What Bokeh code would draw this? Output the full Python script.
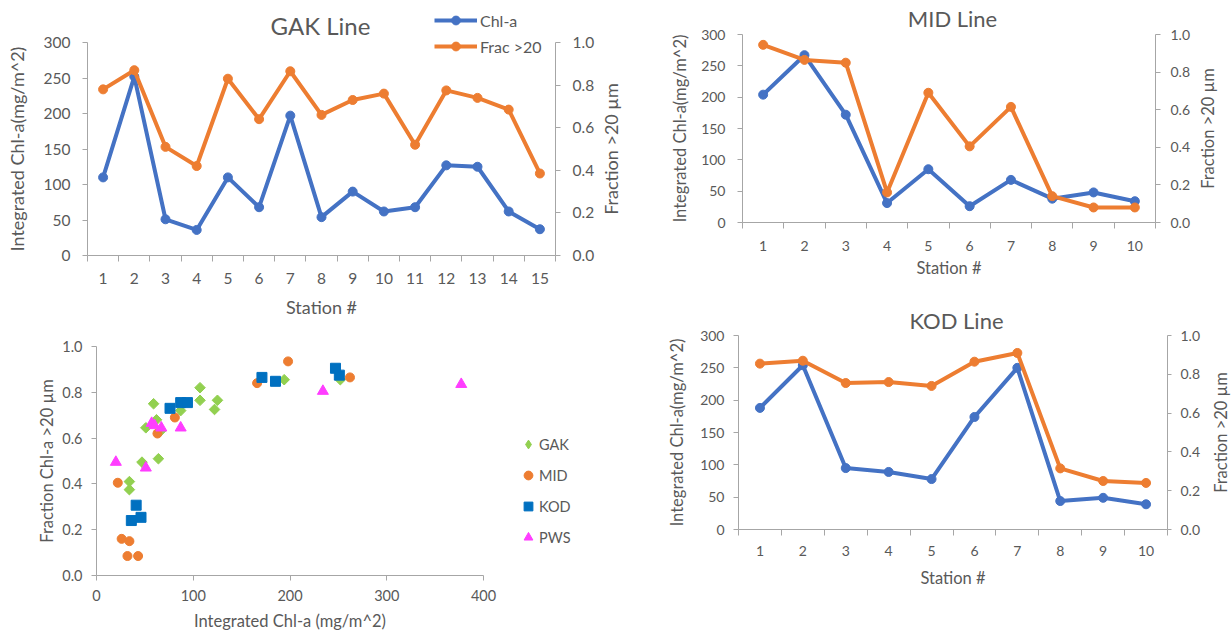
import numpy as np
from bokeh.plotting import figure
from bokeh.models import (Range1d, LinearAxis, FixedTicker, NumeralTickFormatter,
                          Label, Legend, LegendItem)
from bokeh.embed import file_html
from bokeh.resources import INLINE

FONT = "Lato"
TXT = "#595959"
AXIS_C = "#a6a6a6"
BLUE = "#4472C4"
ORANGE = "#ED7D31"
GREEN = "#92D050"
KBLUE = "#0070C0"
MAGENTA = "#FF3DFF"
PAGE_W, PAGE_H = 1231, 634

# ---------------- data ----------------
gak_stations = list(range(1, 16))
gak_chl = [110, 252, 51, 36, 110, 68, 197, 54, 90, 62, 68, 127, 125, 62, 37]
gak_frac = [0.78, 0.87, 0.51, 0.42, 0.83, 0.64, 0.865, 0.66, 0.73, 0.76, 0.52, 0.775, 0.74, 0.685, 0.385]

mid_stations = list(range(1, 11))
mid_chl = [204, 267, 172, 31, 85, 26, 68, 38, 48, 34]
mid_frac = [0.945, 0.865, 0.85, 0.16, 0.69, 0.405, 0.615, 0.14, 0.08, 0.08]

kod_stations = list(range(1, 11))
kod_chl = [188, 254, 95, 89, 78, 174, 250, 44, 49, 39]
kod_frac = [0.855, 0.87, 0.755, 0.76, 0.74, 0.865, 0.91, 0.315, 0.25, 0.24]

sc_gak_chl = [107, 107, 125, 122, 87, 59, 62, 64, 47, 34, 34, 194, 252, 51, 66]
sc_gak_frac = [0.82, 0.765, 0.765, 0.725, 0.72, 0.75, 0.68, 0.51, 0.495, 0.41, 0.375, 0.855, 0.855, 0.645, 0.63]
sc_mid_chl = [198, 166, 262, 81, 63, 22, 26, 34, 32, 43]
sc_mid_frac = [0.935, 0.84, 0.865, 0.69, 0.62, 0.405, 0.16, 0.15, 0.085, 0.085]
sc_kod_chl = [171, 185, 247, 251, 76, 87, 94, 41, 36, 46]
sc_kod_frac = [0.865, 0.848, 0.905, 0.875, 0.73, 0.755, 0.755, 0.307, 0.24, 0.254]
sc_pws_chl = [20, 51, 57, 60, 67, 87, 234, 377]
sc_pws_frac = [0.495, 0.47, 0.665, 0.655, 0.645, 0.645, 0.805, 0.835]

CHL_TICKS = [0, 50, 100, 150, 200, 250, 300]
FRAC_TICKS = [0.0, 0.2, 0.4, 0.6, 0.8, 1.0]
SC_X_TICKS = [0, 100, 200, 300, 400]

Y_TITLE = "Integrated Chl-a(mg/m^2)"
R_TITLE = "Fraction >20 \u00b5m"
SERIES_LABELS = ["Chl-a", "Frac >20"]
SC_LABELS = ["GAK", "MID", "KOD", "PWS"]


def place(p, x, y, z=1):
    p.styles = {"position": "absolute", "left": f"{x}px", "top": f"{y}px", "z-index": str(z)}


def base(p):
    p.outline_line_color = None
    p.background_fill_color = "white"
    p.border_fill_color = "white"
    p.xgrid.visible = False
    p.ygrid.visible = False


def style_axis(ax, tick_fs, title_fs):
    ax.axis_line_color = AXIS_C
    ax.axis_line_width = 1
    ax.major_tick_line_color = AXIS_C
    ax.minor_tick_line_color = AXIS_C
    ax.major_label_text_font = FONT
    ax.major_label_text_font_size = tick_fs
    ax.major_label_text_color = TXT
    ax.axis_label_text_font = FONT
    ax.axis_label_text_font_size = title_fs
    ax.axis_label_text_color = TXT
    ax.axis_label_text_font_style = "normal"
    ax.major_tick_in = 0
    ax.minor_tick_in = 0


def line_chart(stations, chl, frac, origin, size, frame, cfg):
    ox, oy = origin
    W, H = size
    L, R, T, B = frame[0] - ox, frame[1] - ox, frame[2] - oy, frame[3] - oy
    n = len(stations)
    p = figure(width=W, height=H, x_range=Range1d(0.5, n + 0.5), y_range=Range1d(0, 300),
               min_border_left=L, min_border_right=W - R, min_border_top=T,
               min_border_bottom=H - B, output_backend="svg", toolbar_location=None)
    p.extra_y_ranges = {"frac": Range1d(0, 1)}
    base(p)
    place(p, ox, oy)

    xa = p.xaxis[0]
    xa.ticker = FixedTicker(ticks=stations,
                            minor_ticks=[s - 0.5 for s in stations] + [stations[-1] + 0.5])
    style_axis(xa, cfg["tick_fs"], cfg["axis_fs"])
    xa.major_tick_out = 0
    xa.minor_tick_out = 6
    xa.major_label_standoff = cfg["x_std"]
    xa.axis_label = "Station #"
    xa.axis_label_standoff = cfg["x_title_std"]

    ya = p.yaxis[0]
    ya.ticker = FixedTicker(ticks=CHL_TICKS)
    style_axis(ya, cfg["tick_fs"], cfg["axis_fs"])
    ya.major_tick_out = 5
    ya.minor_tick_out = 0
    ya.major_label_standoff = cfg["y_std"]
    ya.axis_label = Y_TITLE
    ya.axis_label_standoff = cfg["y_title_std"]

    ra = LinearAxis(y_range_name="frac", ticker=FixedTicker(ticks=FRAC_TICKS),
                    formatter=NumeralTickFormatter(format="0.0"))
    style_axis(ra, cfg["tick_fs"], cfg["axis_fs"])
    ra.major_tick_out = cfg["r_tick"]
    ra.minor_tick_out = 0
    ra.major_label_standoff = cfg["r_std"]
    p.add_layout(ra, "right")

    p.line(stations, chl, line_color=BLUE, line_width=4, line_join="round")
    p.scatter(stations, chl, marker="circle", size=9, fill_color=BLUE, line_color=BLUE)
    p.line(stations, frac, y_range_name="frac", line_color=ORANGE, line_width=4,
           line_join="round")
    p.scatter(stations, frac, y_range_name="frac", marker="circle", size=9,
              fill_color=ORANGE, line_color=ORANGE)
    return p


gak = line_chart(gak_stations, gak_chl, gak_frac, (0, 0), (625, 320), (87, 555, 42, 255),
                 dict(tick_fs="15.5px", axis_fs="18px", x_std=11, x_title_std=9,
                      y_std=12, y_title_std=13, r_tick=5, r_std=12))
mid = line_chart(mid_stations, mid_chl, mid_frac, (625, 0), (606, 300), (742, 1155, 34, 222),
                 dict(tick_fs="14px", axis_fs="16.5px", x_std=12, x_title_std=4,
                      y_std=12, y_title_std=8, r_tick=5, r_std=10))
kod = line_chart(kod_stations, kod_chl, kod_frac, (625, 300), (606, 334), (738, 1167, 335, 529),
                 dict(tick_fs="14px", axis_fs="16.5px", x_std=10, x_title_std=9,
                      y_std=9, y_title_std=10, r_tick=4, r_std=9))

# ---------------- scatter ----------------
ox, oy = 0, 320
W, H = 625, 314
fL, fR, fT, fB = 96, 483, 346, 575
sc = figure(width=W, height=H, x_range=Range1d(0, 400), y_range=Range1d(0, 1),
            min_border_left=fL - ox, min_border_right=W - (fR - ox), min_border_top=fT - oy,
            min_border_bottom=H - (fB - oy), output_backend="svg", toolbar_location=None)
base(sc)
place(sc, ox, oy)
sxa = sc.xaxis[0]
sxa.ticker = FixedTicker(ticks=SC_X_TICKS)
style_axis(sxa, "14.5px", "16.5px")
sxa.major_tick_out = 5
sxa.minor_tick_out = 0
sxa.major_label_standoff = 9
sxa.axis_label = "Integrated Chl-a (mg/m^2)"
sxa.axis_label_standoff = 7

sya = sc.yaxis[0]
sya.ticker = FixedTicker(ticks=FRAC_TICKS)
sya.formatter = NumeralTickFormatter(format="0.0")
style_axis(sya, "14.5px", "16.5px")
sya.major_tick_out = 5
sya.minor_tick_out = 0
sya.major_label_standoff = 9
sya.axis_label = "Fraction Chl-a >20 \u00b5m"
sya.axis_label_standoff = 2

SC_STYLE = [dict(marker="square", angle=np.pi / 4, size=7.5, color=GREEN, leg="diamond"),
            dict(marker="circle", angle=0, size=9, color=ORANGE, leg="circle"),
            dict(marker="square", angle=0, size=10, color=KBLUE, leg="square"),
            dict(marker="triangle", angle=0, size=11, color=MAGENTA, leg="triangle")]
SC_DATA = [(sc_gak_chl, sc_gak_frac), (sc_mid_chl, sc_mid_frac),
           (sc_kod_chl, sc_kod_frac), (sc_pws_chl, sc_pws_frac)]
for (xs, ys), st in zip(SC_DATA, SC_STYLE):
    sc.scatter(xs, ys, marker=st["marker"], angle=st["angle"], size=st["size"],
               fill_color=st["color"], line_color=st["color"])

# ---------------- overlay for free texts and legends ----------------
ov = figure(width=PAGE_W, height=PAGE_H, x_range=Range1d(0, PAGE_W), y_range=Range1d(0, PAGE_H),
            x_axis_type=None, y_axis_type=None, min_border_left=0, min_border_right=0,
            min_border_top=0, min_border_bottom=0, output_backend="svg",
            toolbar_location=None)
ov.outline_line_color = None
ov.background_fill_color = None
ov.border_fill_color = None
# an off-screen range: legend-only copies of the series are drawn there (never visible)
ov.extra_x_ranges = {"off": Range1d(-5000, -4000)}
ov.extra_y_ranges = {"off": Range1d(-5000, -4000)}
place(ov, 0, 0, z=10)


def text(x, y, s, fs, angle=0):
    ov.add_layout(Label(x=x, y=PAGE_H - y, text=s, text_font=FONT, text_font_size=fs,
                        text_color=TXT, text_align="center", text_baseline="middle",
                        angle=angle, angle_units="deg"))


text(320, 25, "GAK Line", "24px")
text(952, 18, "MID Line", "22px")
text(956, 320, "KOD Line", "22px")
text(610, 148.5, R_TITLE, "18px", angle=90)
text(1207, 128, R_TITLE, "16.5px", angle=90)
text(1220, 432, R_TITLE, "16.5px", angle=90)

OFF = dict(x_range_name="off", y_range_name="off")
lb = ov.line(gak_stations, gak_chl, line_color=BLUE, line_width=4, **OFF)
mb = ov.scatter(gak_stations, gak_chl, marker="circle", size=9, fill_color=BLUE,
                line_color=BLUE, **OFF)
lo = ov.line(gak_stations, gak_frac, line_color=ORANGE, line_width=4, **OFF)
mo = ov.scatter(gak_stations, gak_frac, marker="circle", size=9, fill_color=ORANGE,
                line_color=ORANGE, **OFF)
gh, sp, top = 22, 4, 9
ov.add_layout(Legend(items=[LegendItem(label=SERIES_LABELS[0], renderers=[lb, mb]),
                            LegendItem(label=SERIES_LABELS[1], renderers=[lo, mo])],
                     location=(434, PAGE_H - (top + 2 * gh + sp)),
                     glyph_width=43, glyph_height=gh, label_height=gh, spacing=sp,
                     label_standoff=3, padding=0, margin=0, border_line_color=None,
                     background_fill_alpha=0, label_text_font=FONT,
                     label_text_font_size="16px", label_text_color=TXT))

sc_leg_r = []
for (xs, ys), st in zip(SC_DATA, SC_STYLE):
    sc_leg_r.append(ov.scatter(xs, ys, marker=st["leg"], size=st["size"],
                               fill_color=st["color"], line_color=st["color"], **OFF))
gh, sp, top = 22, 9, 433
ov.add_layout(Legend(items=[LegendItem(label=lab, renderers=[r])
                            for lab, r in zip(SC_LABELS, sc_leg_r)],
                     location=(517, PAGE_H - (top + 4 * gh + 3 * sp)),
                     glyph_width=22, glyph_height=gh, label_height=gh, spacing=sp,
                     label_standoff=0, padding=0, margin=0, border_line_color=None,
                     background_fill_alpha=0, label_text_font=FONT,
                     label_text_font_size="14.5px", label_text_color=TXT))

open("out.html", "w").write(file_html([gak, mid, sc, kod, ov], INLINE))
